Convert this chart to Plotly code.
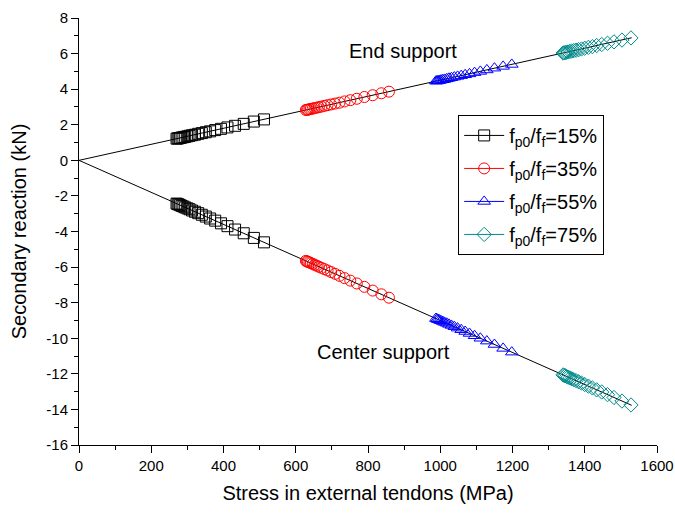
import plotly.graph_objects as go

# ---- data ----
ratios = ["15%", "35%", "55%", "75%"]
colors = ["#000000", "#FF0000", "#0000FF", "#008B8B"]
symbols = ["square-open", "circle-open", "triangle-up-open", "diamond-open"]

x15 = [270, 273, 276, 280, 284, 289, 294, 300, 306, 313, 321, 330, 340, 351, 363, 377, 393, 411, 432, 456, 484, 512]
end15 = [1.22, 1.23, 1.24, 1.26, 1.28, 1.30, 1.32, 1.35, 1.38, 1.41, 1.44, 1.49, 1.53, 1.58, 1.63, 1.70, 1.77, 1.85, 1.94, 2.05, 2.18, 2.30]
cen15 = [-2.43, -2.46, -2.48, -2.52, -2.56, -2.60, -2.65, -2.70, -2.75, -2.82, -2.89, -2.97, -3.06, -3.16, -3.27, -3.39, -3.54, -3.70, -3.89, -4.10, -4.36, -4.61]

x35 = [628, 631, 634, 638, 642, 647, 652, 658, 664, 671, 679, 688, 698, 709, 721, 735, 751, 769, 790, 813, 837, 858]
end35 = [2.83, 2.84, 2.85, 2.87, 2.89, 2.91, 2.93, 2.96, 2.99, 3.02, 3.06, 3.10, 3.14, 3.19, 3.24, 3.31, 3.38, 3.46, 3.56, 3.66, 3.77, 3.86]
cen35 = [-5.65, -5.68, -5.71, -5.74, -5.78, -5.82, -5.87, -5.92, -5.98, -6.04, -6.11, -6.19, -6.28, -6.38, -6.49, -6.62, -6.76, -6.92, -7.11, -7.32, -7.53, -7.72]

x55 = [988, 991, 994, 998, 1002, 1007, 1012, 1018, 1024, 1031, 1039, 1048, 1058, 1069, 1081, 1095, 1111, 1129, 1150, 1174, 1198]
end55 = [4.45, 4.46, 4.47, 4.49, 4.51, 4.53, 4.55, 4.58, 4.61, 4.64, 4.68, 4.72, 4.76, 4.81, 4.86, 4.93, 5.00, 5.08, 5.18, 5.28, 5.39]
cen55 = [-8.89, -8.92, -8.95, -8.98, -9.02, -9.06, -9.11, -9.16, -9.22, -9.28, -9.35, -9.43, -9.52, -9.62, -9.73, -9.86, -10.00, -10.16, -10.35, -10.57, -10.78]

x75 = [1340, 1343, 1346, 1350, 1354, 1359, 1364, 1370, 1376, 1383, 1391, 1400, 1410, 1421, 1433, 1447, 1463, 1481, 1503, 1528]
end75 = [6.03, 6.04, 6.06, 6.08, 6.09, 6.12, 6.14, 6.17, 6.19, 6.22, 6.26, 6.30, 6.35, 6.39, 6.45, 6.51, 6.58, 6.66, 6.76, 6.88]
cen75 = [-12.06, -12.09, -12.11, -12.15, -12.19, -12.23, -12.28, -12.33, -12.38, -12.45, -12.52, -12.60, -12.69, -12.79, -12.90, -13.02, -13.17, -13.33, -13.53, -13.75]

fit_x = [0, 1530]
fit_end = [0, 6.89]
fit_cen = [0, -13.77]

xtick_vals = [0, 200, 400, 600, 800, 1000, 1200, 1400, 1600]
ytick_vals = [8, 6, 4, 2, 0, -2, -4, -6, -8, -10, -12, -14, -16]
ytick_text = ["8", "6", "4", "2", "0", "-2", "-4", "-6", "-8", "-10", "-12", "-14", "-16"]

xs = [x15, x35, x55, x75]
ends = [end15, end35, end55, end75]
cens = [cen15, cen35, cen55, cen75]

FONT = "Liberation Sans, Arial, sans-serif"

fig = go.Figure()

# fitted lines
for fy in (fit_end, fit_cen):
    fig.add_trace(go.Scatter(x=fit_x, y=fy, mode="lines",
                             line=dict(color="black", width=1),
                             showlegend=False, hoverinfo="skip"))

for i in range(4):
    for yy in (ends[i], cens[i]):
        fig.add_trace(go.Scatter(x=xs[i], y=yy, mode="markers",
                                 marker=dict(symbol=symbols[i], size=11, color=colors[i],
                                             line=dict(width=1, color=colors[i])),
                                 showlegend=False))
    # legend entry
    fig.add_trace(go.Scatter(x=[None], y=[None], mode="lines+markers",
                             name="f<sub>p0</sub>/f<sub>f</sub>=" + ratios[i],
                             legendgroup="g" + str(i),
                             line=dict(color=colors[i], width=1),
                             marker=dict(symbol=symbols[i], size=11, color=colors[i],
                                         line=dict(width=1, color=colors[i]))))

fig.add_annotation(x=897, y=6.15, text="End support", showarrow=False,
                   font=dict(size=20, color="black", family=FONT))
fig.add_annotation(x=842, y=-10.8, text="Center support", showarrow=False,
                   font=dict(size=20, color="black", family=FONT))

fig.update_layout(
    width=675, height=515,
    margin=dict(l=79, r=18, t=18, b=70),
    paper_bgcolor="white", plot_bgcolor="white",
    font=dict(family=FONT, color="black"),
    showlegend=True,
    legend=dict(x=0.656, y=0.773, xanchor="left", yanchor="top",
                bordercolor="black", borderwidth=1, bgcolor="white",
                font=dict(size=20, family=FONT), tracegroupgap=4,
                itemwidth=40),
)
fig.update_xaxes(range=[0, 1600], tickvals=xtick_vals, automargin=False,
                 ticks="outside", ticklen=7, tickwidth=1, tickcolor="black",
                 minor=dict(dtick=100, ticks="outside", ticklen=4, tickcolor="black", tickwidth=1),
                 showline=True, linecolor="black", linewidth=1, mirror=False,
                 showgrid=False, zeroline=False,
                 tickfont=dict(size=15, family=FONT),
                 title=dict(text="Stress in external tendons (MPa)", font=dict(size=20, family=FONT), standoff=12))
fig.update_yaxes(range=[-16, 8], tickvals=ytick_vals, ticktext=ytick_text, automargin=False,
                 ticks="outside", ticklen=7, tickwidth=1, tickcolor="black",
                 minor=dict(dtick=1, ticks="outside", ticklen=4, tickcolor="black", tickwidth=1),
                 showline=True, linecolor="black", linewidth=1, mirror=False,
                 showgrid=False, zeroline=False,
                 tickfont=dict(size=15, family=FONT),
                 title=dict(text="Secondary reaction (kN)", font=dict(size=20, family=FONT), standoff=14))

fig.write_html("out.html")
